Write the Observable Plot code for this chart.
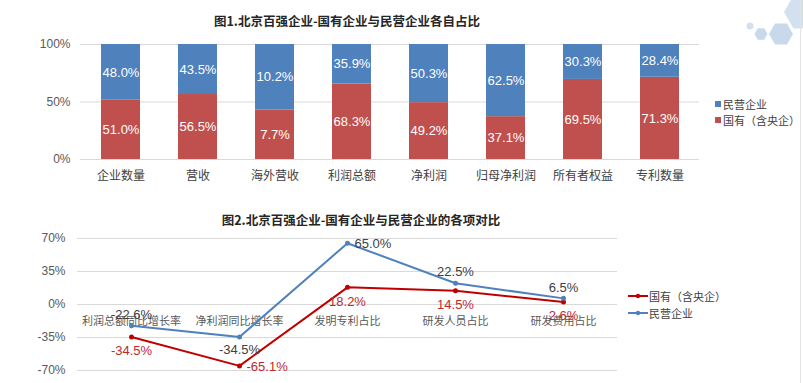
<!DOCTYPE html>
<html><head><meta charset="utf-8">
<script src="https://cdn.jsdelivr.net/npm/d3@7"></script>
<script src="https://cdn.jsdelivr.net/npm/@observablehq/plot@0.6"></script>
<style>
body{margin:0;background:#fff;font-family:"Liberation Sans","Noto Sans CJK SC",sans-serif;}
#wrap{position:relative;width:803px;height:383px;overflow:hidden;background:#fff;}
.abs{position:absolute;}
.title{font-weight:bold;font-size:12.5px;color:#262626;white-space:nowrap;transform:translate(-50%,-50%);font-family:"Noto Sans CJK SC","Liberation Sans",sans-serif;}
.leg{font-size:11px;color:#404040;white-space:nowrap;display:flex;align-items:center;transform:translateY(-50%);font-family:"Noto Sans CJK SC",sans-serif;line-height:14px;}
</style></head><body><div id="wrap"></div>
<script>
// ---- data ----
const barCategories = ["企业数量","营收","海外营收","利润总额","净利润","归母净利润","所有者权益","专利数量"];
const stateShare   = [51.0, 56.5, 7.7, 68.3, 49.2, 37.1, 69.5, 71.3];
const privateShare = [48.0, 43.5, 10.2, 35.9, 50.3, 62.5, 30.3, 28.4];
const seriesNames  = ["国有（含央企）", "民营企业"];
const barTicks     = [0, 0.5, 1];

const lineCategories = ["利润总额同比增长率","净利润同比增长率","发明专利占比","研发人员占比","研发费用占比"];
const stateLine   = [-34.5, -65.1, 18.2, 14.5, 2.6];
const privateLine = [-22.6, -34.5, 65.0, 22.5, 6.5];
const lineTicks   = [-70, -35, 0, 35, 70];

const title1 = "图1.北京百强企业-国有企业与民营企业各自占比";
const title2 = "图2.北京百强企业-国有企业与民营企业的各项对比";

// ---- styles ----
const barColors  = ["#c0504d", "#4f81bd"];
const lineColors = ["#c00000", "#4f81bd"];
const labelColors = ["#c0282d", "#404040"];
const FONT = '"Liberation Sans","Noto Sans CJK SC",sans-serif';
const wrap = document.getElementById("wrap");

function place(el, left, top){ el.classList.add("abs"); el.style.left = left+"px"; el.style.top = top+"px"; wrap.appendChild(el); return el; }

// ---- chart 1 ----
const barData = [];
barCategories.forEach((c,i)=>barData.push({cat:c, series:seriesNames[0], v:stateShare[i]}));
barCategories.forEach((c,i)=>barData.push({cat:c, series:seriesNames[1], v:privateShare[i]}));

const p1 = Plot.plot({
  width: 803, height: 195,
  marginLeft: 80, marginRight: 104, marginTop: 44, marginBottom: 36,
  style: {fontFamily: FONT, fontSize: "12px", color: "#595959", background: "transparent", overflow: "visible"},
  x: {domain: barCategories, paddingInner: 0.5, paddingOuter: 0.25, label: null},
  y: {domain: [0, 1], label: null},
  color: {domain: seriesNames, range: barColors},
  marks: [
    Plot.gridY(barTicks, {stroke: "#d9d9d9", strokeOpacity: 1}),
    Plot.barY(barData, Plot.stackY({x: "cat", y: "v", fill: "series", offset: "normalize"})),
    Plot.text(barData, Plot.stackY({x: "cat", y: "v", z: "series", offset: "normalize",
      text: d => d.v.toFixed(1) + "%", fill: "white", fontSize: 13})),
    Plot.axisY(barTicks, {tickSize: 0, tickPadding: 10, tickFormat: d => Math.round(d*100) + "%", fontSize: 12, label: null}),
    Plot.axisX({tickSize: 0, tickPadding: 12, fontSize: 12, fill: "#404040", label: null, fontFamily: '"Noto Sans CJK SC",sans-serif'})
  ]
});
place(p1, 0, 0);

// ---- chart 2 ----
const lineData = [];
lineCategories.forEach((c,i)=>lineData.push({cat:c, series:seriesNames[0], v:stateLine[i], i}));
lineCategories.forEach((c,i)=>lineData.push({cat:c, series:seriesNames[1], v:privateLine[i], i}));
const fmt = d => d.v.toFixed(1) + "%";
const isState = d => d.series === seriesNames[0];

const p2 = Plot.plot({
  width: 803, height: 183,
  marginLeft: 77, marginRight: 186, marginTop: 38, marginBottom: 13,
  style: {fontFamily: FONT, fontSize: "12px", color: "#595959", background: "transparent", overflow: "visible"},
  x: {type: "point", domain: lineCategories, padding: 0.5, axis: null},
  y: {domain: [-70, 70], label: null},
  color: {domain: seriesNames, range: lineColors},
  marks: [
    Plot.gridY(lineTicks, {stroke: "#d9d9d9", strokeOpacity: 1}),
    Plot.axisY(lineTicks, {tickSize: 0, tickPadding: 12, tickFormat: d => d + "%", fontSize: 12, label: null}),
    Plot.text(lineCategories, {x: d => d, y: () => 0, dy: 17, text: d => d, fontSize: 11, fill: "#595959", fontFamily: '"Noto Sans CJK SC",sans-serif'}),
    Plot.line(lineData, {x: "cat", y: "v", stroke: "series", strokeWidth: 2}),
    Plot.dot(lineData, {x: "cat", y: "v", fill: "series", r: 2.5}),
    // 民营 labels
    Plot.text(lineData, {filter: d => !isState(d) && [0,3,4].includes(d.i), x: "cat", y: "v", text: fmt, dy: -11, fill: labelColors[1], fontSize: 13}),
    Plot.text(lineData, {filter: d => !isState(d) && d.i === 1, x: "cat", y: "v", text: fmt, dy: 13, fill: labelColors[1], fontSize: 13}),
    Plot.text(lineData, {filter: d => !isState(d) && d.i === 2, x: "cat", y: "v", text: fmt, dx: 7, dy: 1, textAnchor: "start", fill: labelColors[1], fontSize: 13}),
    // 国有 labels
    Plot.text(lineData, {filter: d => isState(d) && [0,2,3,4].includes(d.i), x: "cat", y: "v", text: fmt, dy: 14, fill: labelColors[0], fontSize: 13}),
    Plot.text(lineData, {filter: d => isState(d) && d.i === 1, x: "cat", y: "v", text: fmt, dx: 7, dy: 1, textAnchor: "start", fill: labelColors[0], fontSize: 13})
  ]
});
place(p2, 0, 200);

// ---- titles ----
const t1 = document.createElement("div"); t1.className = "title"; t1.textContent = title1; place(t1, 347, 20);
const t2 = document.createElement("div"); t2.className = "title"; t2.textContent = title2; place(t2, 361, 219);

// ---- legend 1 (square swatches) ----
[[seriesNames[1], barColors[1], 104], [seriesNames[0], barColors[0], 120]].forEach(([name, col, y]) => {
  const d = document.createElement("div"); d.className = "leg";
  d.innerHTML = `<span style="display:inline-block;width:6px;height:6px;background:${col};margin-right:2px"></span>${name}`;
  place(d, 715, y);
});
// ---- legend 2 (line swatches) ----
[[seriesNames[0], lineColors[0], 296], [seriesNames[1], lineColors[1], 313]].forEach(([name, col, y]) => {
  const d = document.createElement("div"); d.className = "leg";
  d.innerHTML = `<svg width="20" height="6" style="margin-right:1px"><line x1="0" x2="20" y1="3" y2="3" stroke="${col}" stroke-width="2"/><circle cx="10" cy="3" r="2.2" fill="${col}"/></svg>${name}`;
  place(d, 628, y);
});

// ---- decoration ----
const hex = (cx, cy, r) => d3.range(6).map(k => { const a = Math.PI/3*k; return [cx + r*Math.cos(a), cy + r*Math.sin(a)].join(","); }).join(" ");
const deco = document.createElementNS("http://www.w3.org/2000/svg", "svg");
deco.setAttribute("width", 803); deco.setAttribute("height", 383);
deco.style.pointerEvents = "none";
deco.innerHTML = `
  <circle cx="750" cy="26" r="3.5" fill="#d3e0ef"/>
  <polygon points="${hex(761,34,6.5)}" fill="#c9d9ec"/>
  <polygon points="${hex(781,34,12)}" fill="#c9d9ec"/>
  <polygon points="${hex(803,12,19)}" fill="#d3e0ef"/>
  <line x1="800.5" x2="800.5" y1="0" y2="383" stroke="#e3e3e3" stroke-width="1"/>`;
place(deco, 0, 0);
</script>
</body></html>
